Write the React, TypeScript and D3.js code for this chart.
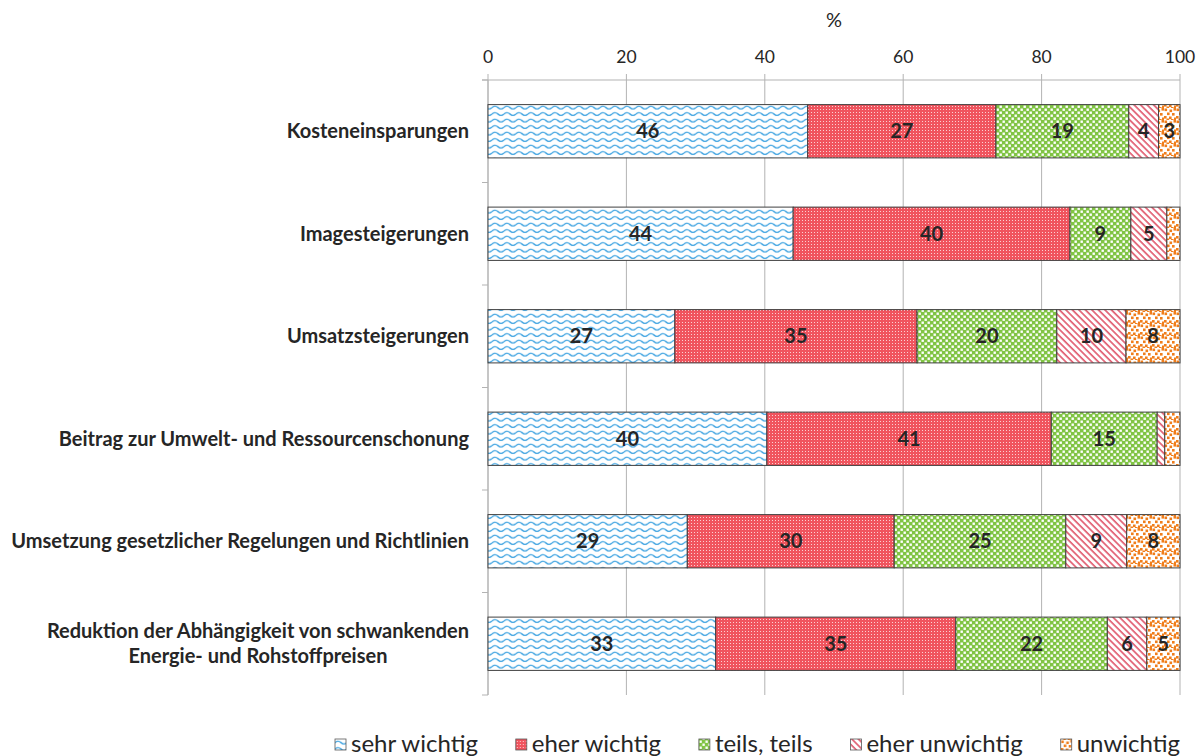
import { useEffect, useRef } from 'react'
import * as d3 from 'd3'

// Stacked 100% bar chart, horizontal, Excel-style pattern fills.
const categories = [
  'Kosteneinsparungen',
  'Imagesteigerungen',
  'Umsatzsteigerungen',
  'Beitrag zur Umwelt- und Ressourcenschonung',
  'Umsetzung gesetzlicher Regelungen und Richtlinien',
  'Reduktion der Abhängigkeit von schwankenden\nEnergie- und Rohstoffpreisen',
]
const seriesNames = ['sehr wichtig', 'eher wichtig', 'teils, teils', 'eher unwichtig', 'unwichtig']
const sehrWichtig = [46.2, 44.1, 27.0, 40.3, 28.8, 32.9]
const eherWichtig = [27.2, 40.0, 35.0, 41.1, 29.9, 34.7]
const teilsTeils = [19.2, 8.8, 20.2, 15.3, 24.8, 21.9]
const eherUnwichtig = [4.3, 5.2, 10.0, 1.1, 8.8, 5.7]
const unwichtig = [3.1, 1.9, 7.8, 2.2, 7.7, 4.8]
const xTicks = [0, 20, 40, 60, 80, 100]

const FONT = 'Lato, "Open Sans", sans-serif'
const W = 1200
const H = 756

function defsPatterns(defs: d3.Selection<SVGDefsElement, unknown, null, undefined>) {
  // wave
  const wave = defs.append('pattern').attr('id', 'p0').attr('patternUnits', 'userSpaceOnUse')
    .attr('width', 12).attr('height', 6.5)
  wave.append('rect').attr('width', 12).attr('height', 6.5).attr('fill', '#fff')
  wave.append('path').attr('d', 'M0,3.6 Q3,0.8 6,3.6 T12,3.6')
    .attr('fill', 'none').attr('stroke', '#37a0e0').attr('stroke-width', 1.3)

  // fine red dots
  const red = defs.append('pattern').attr('id', 'p1').attr('patternUnits', 'userSpaceOnUse')
    .attr('width', 3).attr('height', 3)
  red.append('rect').attr('width', 3).attr('height', 3).attr('fill', '#f0545e')
  red.append('rect').attr('x', 1).attr('y', 1).attr('width', 1).attr('height', 1).attr('fill', '#fbd0d2')
    .attr('shape-rendering', 'crispEdges')

  // green checker
  const green = defs.append('pattern').attr('id', 'p2').attr('patternUnits', 'userSpaceOnUse')
    .attr('width', 6).attr('height', 6)
  green.append('rect').attr('width', 6).attr('height', 6).attr('fill', '#80c444')
  green.append('rect').attr('x', 0.5).attr('y', 0.5).attr('width', 2.4).attr('height', 2.4).attr('fill', '#fff')
  green.append('rect').attr('x', 3.5).attr('y', 3.5).attr('width', 2.4).attr('height', 2.4).attr('fill', '#fff')

  // wide downward diagonal
  const diag = defs.append('pattern').attr('id', 'p3').attr('patternUnits', 'userSpaceOnUse')
    .attr('width', 4.6).attr('height', 10).attr('patternTransform', 'rotate(-45)')
  diag.append('rect').attr('width', 4.6).attr('height', 10).attr('fill', '#fff')
  diag.append('line').attr('x1', 1).attr('x2', 1).attr('y1', 0).attr('y2', 10)
    .attr('stroke', '#e0566a').attr('stroke-width', 1.6)

  // orange confetti
  const conf = defs.append('pattern').attr('id', 'p4').attr('patternUnits', 'userSpaceOnUse')
    .attr('width', 12).attr('height', 12)
  conf.append('rect').attr('width', 12).attr('height', 12).attr('fill', '#fff')
  const spots = [[0.5, 0.5], [5.5, 1.5], [9.5, 0], [3, 4.5], [8, 5], [0, 8], [5, 8.5], [10, 9.5], [2.5, 10.5], [7, 11]]
  spots.forEach(([sx, sy]) =>
    conf.append('rect').attr('x', sx).attr('y', sy).attr('width', 2.6).attr('height', 2.6).attr('fill', '#f07d1a'),
  )
}

export default function App() {
  const ref = useRef<SVGSVGElement>(null)

  useEffect(() => {
    document.body.style.margin = '0'
    const svg = d3.select(ref.current!)
    svg.selectAll('*').remove()
    defsPatterns(svg.append('defs'))

    const m = { top: 80, left: 488, right: 20, bottom: 61 }
    const x = d3.scaleLinear().domain([0, 100]).range([m.left, W - m.right])
    const y = d3.scaleBand<number>().domain(d3.range(categories.length)).range([m.top, H - m.bottom]).paddingInner(0.48).paddingOuter(0.24)
    const step = y.step()
    const series = [sehrWichtig, eherWichtig, teilsTeils, eherUnwichtig, unwichtig]

    // gridlines + ticks
    const g = svg.append('g')
    xTicks.forEach((t) => {
      g.append('line').attr('x1', x(t)).attr('x2', x(t)).attr('y1', m.top - 6).attr('y2', H - m.bottom)
        .attr('stroke', '#b3b3b3').attr('stroke-width', 1)
      g.append('text').attr('x', x(t)).attr('y', 63).attr('text-anchor', 'middle')
        .attr('font-family', FONT).attr('font-size', 17.5).attr('fill', '#262626').text(t)
    })
    g.append('line').attr('x1', m.left - 6).attr('x2', x(100)).attr('y1', m.top).attr('y2', m.top)
      .attr('stroke', '#b3b3b3')
    g.append('text').attr('x', (x(0) + x(100)) / 2).attr('y', 27).attr('text-anchor', 'middle')
      .attr('font-family', FONT).attr('font-size', 20).attr('fill', '#262626').text('%')

    // category axis
    g.append('line').attr('x1', m.left).attr('x2', m.left).attr('y1', m.top).attr('y2', H - m.bottom)
      .attr('stroke', '#b3b3b3')
    d3.range(categories.length + 1).forEach((i) => {
      const yy = m.top + i * step
      g.append('line').attr('x1', m.left - 6).attr('x2', m.left).attr('y1', yy).attr('y2', yy).attr('stroke', '#b3b3b3')
    })

    // bars
    categories.forEach((_, ci) => {
      let acc = 0
      series.forEach((s, si) => {
        const v = s[ci]
        const x0 = x(acc)
        const x1 = x(acc + v)
        acc += v
        svg.append('rect').attr('x', x0).attr('y', y(ci)!).attr('width', x1 - x0).attr('height', y.bandwidth())
          .attr('fill', `url(#p${si})`).attr('stroke', '#404040').attr('stroke-width', 1)
        if (v >= 2.5) {
          svg.append('text').attr('x', (x0 + x1) / 2).attr('y', y(ci)! + y.bandwidth() / 2)
            .attr('dy', '0.35em').attr('text-anchor', 'middle').attr('font-family', FONT)
            .attr('font-weight', 700).attr('font-size', 20).attr('fill', '#262626').text(Math.round(v))
        }
      })
    })

    // category labels
    categories.forEach((c, ci) => {
      const lines = c.split('\n')
      const cy = y(ci)! + y.bandwidth() / 2
      const lh = 25
      const t = svg.append('text').attr('font-family', FONT).attr('font-weight', 700).attr('font-size', 20)
        .attr('fill', '#262626').attr('text-anchor', 'middle')
      const spans = lines.map((ln, li) =>
        t.append('tspan').attr('y', cy + (li - (lines.length - 1) / 2) * lh).attr('dy', '0.35em').text(ln),
      )
      const wmax = d3.max(spans, (sp) => (sp.node() as SVGTSpanElement).getComputedTextLength()) ?? 0
      spans.forEach((sp) => sp.attr('x', m.left - 19 - wmax / 2))
    })

    // legend
    const lg = svg.append('g')
    const items = seriesNames.map((n, i) => {
      const it = lg.append('g')
      it.append('rect').attr('width', 11).attr('height', 11).attr('y', -13).attr('fill', `url(#p${i})`)
        .attr('stroke', '#595959').attr('stroke-width', 0.8)
      const tx = it.append('text').attr('x', 16).attr('y', 0).attr('font-family', FONT).attr('font-size', 24)
        .attr('fill', '#262626').text(n)
      return { it, w: 16 + (tx.node() as SVGTextElement).getComputedTextLength() }
    })
    const lx0 = 335
    const lx1 = 1180
    const total = d3.sum(items, (d) => d.w)
    const gap = (lx1 - lx0 - total) / (items.length - 1)
    let cx = lx0
    items.forEach((d) => {
      d.it.attr('transform', `translate(${cx},752)`)
      cx += d.w + gap
    })
  }, [])

  return <svg ref={ref} width={W} height={H} style={{ display: 'block', background: '#fff' }} />
}
